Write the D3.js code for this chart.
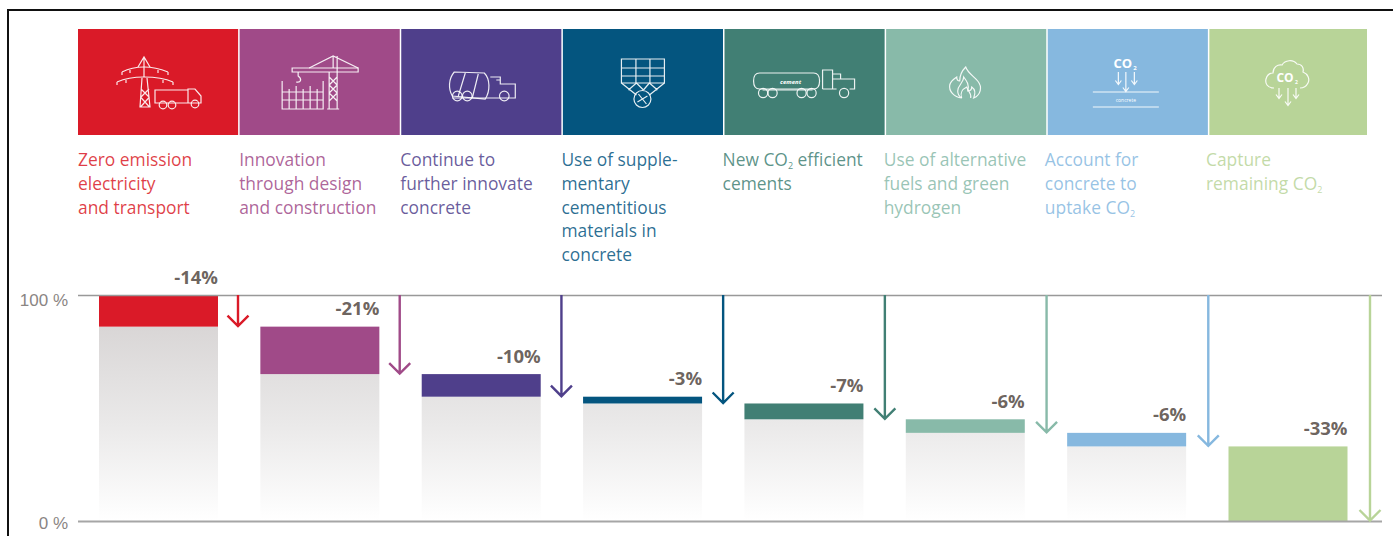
<!DOCTYPE html>
<html>
<head>
<meta charset="utf-8">
<script src="https://cdn.jsdelivr.net/npm/d3@7/dist/d3.min.js"></script>
<style>
  html, body { margin: 0; padding: 0; background: #fff; }
  svg { display: block; font-family: "Open Sans", "Noto Sans", sans-serif; }
</style>
</head>
<body>
<svg id="chart" width="1393" height="536"></svg>
<script>
// Stepwise route to net-zero concrete: each lever removes a share of the remaining CO2.
const levers = ["power", "design", "concrete", "scm", "cement", "fuels", "uptake", "capture"];
const reductions = [14, 21, 10, 3, 7, 6, 6, 33];
const colours = ["#da1a28", "#a04a88", "#4f3f8b", "#04557f", "#417f74", "#88baa9", "#86b8df", "#b8d498"];
const captions = [
  ["Zero emission", "electricity", "and transport"],
  ["Innovation", "through design", "and construction"],
  ["Continue to", "further innovate", "concrete"],
  ["Use of supple-", "mentary", "cementitious", "materials in", "concrete"],
  ["New CO2 efficient", "cements"],
  ["Use of alternative", "fuels and green", "hydrogen"],
  ["Account for", "concrete to", "uptake CO2"],
  ["Capture", "remaining CO2"]
];
const axisTicks = [0, 100];

const svg = d3.select("#chart");

// Running level left after each lever has been applied.
const steps = [];
reductions.reduce((level, cut, i) => {
  steps.push({ key: levers[i], cut, top: level, bottom: level - cut, colour: colours[i], caption: captions[i], index: i });
  return level - cut;
}, 100);

const y = d3.scaleLinear().domain([0, 100]).range([521, 295]);
const panelX = d3.scaleBand().domain(levers).range([78, 1371]);
const captionX = d3.scalePoint().domain(levers).range([78, 1206]);
const barX = d3.scalePoint().domain(levers).range([99, 1228.5]);
const arrowX = d3.scalePoint().domain(levers).range([238, 1370]);
const barWidth = 119;
const panelRight = 1367;

// Sheet frame
svg.append("path").attr("d", "M8,536V10H1393").attr("fill", "none").attr("stroke", "#111").attr("stroke-width", 2);

// Shared grey fade behind every bar
const grad = svg.append("defs").append("linearGradient")
  .attr("id", "fade").attr("gradientUnits", "userSpaceOnUse")
  .attr("x1", 0).attr("x2", 0).attr("y1", y(86)).attr("y2", y(0));
grad.append("stop").attr("offset", 0).attr("stop-color", "#d9d6d6");
grad.append("stop").attr("offset", 0.5).attr("stop-color", "#eae9e9");
grad.append("stop").attr("offset", 1).attr("stop-color", "#ffffff");

// Header tiles; the last one stops short of the full step
svg.append("g").selectAll("rect").data(steps).join("rect")
  .attr("x", d => panelX(d.key))
  .attr("y", 29)
  .attr("width", d => Math.min(panelX.bandwidth() - 1.5, panelRight - panelX(d.key)))
  .attr("height", 106)
  .attr("fill", d => d.colour);

// Pictograms, drawn in tile-local coordinates
const L = (g, d) => g.append("path").attr("d", d);
const wheels = (g, list, r) => list.forEach(([cx, cy]) => g.append("circle").attr("cx", cx).attr("cy", cy).attr("r", r));
const glyphs = {
  power(g) {
    L(g, "M66,28V48M60,38L66,28L72,38");
    L(g, "M44,43C52,39 60,38 66,38C72,38 80,39 90,43M44,43V46M52,41V44M80,41V44M90,43V46");
    L(g, "M39,53C48,49 58,48 66,48C74,48 86,49 95,53M39,53V56M48,51V54M85,51V54M95,53V56");
    L(g, "M64,49L62,78H72L69,49M63,60L71,68M71,60L63,68M62.500,68L71.500,78M71.500,68L62.500,78");
    L(g, "M77,61H110V74H77ZM110,60H117L123,67V74H110Z");
    wheels(g, [[85, 76], [94, 76], [117, 75]], 3.8);
  },
  design(g) {
    L(g, "M53,39H119V43H53Z");
    L(g, "M70,39L94,27L119,39M90,80V43M98,80V27M94,27V39M90,48L98,56M98,48L90,56M90,56L98,64M98,56L90,64M90,64L98,72M98,64L90,72M88,80H100");
    L(g, "M59,43V47C63,50 62,54 57,53");
    L(g, "M43,52V80H84V52M43,63H84M43,71H84M50,60V80M57,57V80M64,60V80M71,57V80M78,60V80");
  },
  concrete(g) {
    L(g, "M54,43L84,44C90,50 90,62 85,70L52,67C48,60 48,50 54,43ZM65,44L58,67M78,45L72,69");
    L(g, "M90,48H100V55H115V69H52M100,48V55M96,51H100");
    wheels(g, [[57, 67], [67, 67], [104, 67]], 4.8);
  },
  scm(g) {
    L(g, "M60,30H103V54H60ZM74.500,30V54M88.500,30V54M60,39H103M60,47H103");
    L(g, "M60,54L75,66M103,54L88,66M75,54L67,61M75,54L82,61M88,54L82,61M88,54L96,61");
    g.append("circle").attr("cx", 81).attr("cy", 70).attr("r", 8.5);
    L(g, "M81,70L77,65M81,70L86,67M81,70L85,75M81,70L76,73");
  },
  cement(g) {
    L(g, "M37,44H91C95,44 97,47 97,52C97,57 95,60 91,60H37C33,60 31,57 31,52C31,47 33,44 37,44Z");
    L(g, "M100,60V41H110V60M110,50H132V60H127M100,60H114M110,45H118V50M40,61H90");
    wheels(g, [[40.500, 64], [50, 64], [79, 64], [89, 64], [121.500, 64]], 4.6);
    g.append("text").text("cement").attr("x", 68).attr("y", 54.500).attr("text-anchor", "middle")
      .attr("font-size", 6).attr("font-style", "italic").attr("font-weight", 700).attr("fill", "#fff").attr("stroke", "none");
  },
  fuels(g) {
    L(g, "M82,38C84,44 90,47 94,52C99,58 97,66 90,69C92,64 91,60 88,58C88,61 86,62 84,62C86,56 83,52 80,48C80,54 74,56 74,62C74,65 75,67 78,69C70,68 65,62 66,56C67,52 70,50 73,48C73,50 74,52 76,52C76,46 78,42 82,38Z");
    L(g, "M78,69C76,64 79,60 83,58C84,62 88,64 87,69");
  },
  uptake(g) {
    g.append("text").text("CO").attr("x", 78).attr("y", 39).attr("text-anchor", "middle")
      .attr("font-size", 13).attr("font-weight", 700).attr("fill", "#fff").attr("stroke", "none");
    g.append("text").text("2").attr("x", 90).attr("y", 41).attr("text-anchor", "middle")
      .attr("font-size", 6).attr("font-weight", 700).attr("fill", "#fff").attr("stroke", "none");
    L(g, "M73.500,43V55M70.500,51.500L73.500,55.500L76.500,51.500M81,43V62M78,58.500L81,62.500L84,58.500M89.500,43V55M86.500,51.500L89.500,55.500L92.500,51.500");
    L(g, "M48,63H114M48,78H114");
    g.append("text").text("concrete").attr("x", 81).attr("y", 72.500).attr("text-anchor", "middle")
      .attr("font-size", 5).attr("fill", "#fff").attr("stroke", "none");
  },
  capture(g) {
    L(g, "M68,59C61,59 59,54 60,50C61,46 64,44 67,44C67,38 72,35 76,36C79,31 87,30 91,35C96,35 98,39 97,43C102,45 104,50 102,54C100,58 97,59 94,59");
    g.append("text").text("CO").attr("x", 79).attr("y", 53).attr("text-anchor", "middle")
      .attr("font-size", 12).attr("font-weight", 700).attr("fill", "#fff").attr("stroke", "none");
    g.append("text").text("2").attr("x", 90.500).attr("y", 55).attr("text-anchor", "middle")
      .attr("font-size", 5).attr("font-weight", 700).attr("fill", "#fff").attr("stroke", "none");
    L(g, "M73,59V69M70,65.500L73,69.500L76,65.500M82,59V76M79,72.500L82,76.500L85,72.500M90,59V69M87,65.500L90,69.500L93,65.500");
  }
};
svg.append("g").selectAll("g").data(steps).join("g")
  .attr("transform", d => `translate(${captionX(d.key)},29)`)
  .attr("fill", "none").attr("stroke", "#fff").attr("stroke-width", 1.2)
  .attr("stroke-opacity", 0.9)
  .each(function (d) { glyphs[d.key](d3.select(this)); });

// Captions under the tiles, with a lowered "2" in CO2
const captionGroups = svg.append("g").attr("font-size", 17.4).selectAll("text").data(steps).join("text")
  .attr("fill", d => d.colour)
  .attr("fill-opacity", 0.85);
captionGroups.each(function (d) {
  const text = d3.select(this);
  const x = captionX(d.key);
  d.caption.forEach((line, i) => {
    const lineY = 165.800 + i * 23.85;
    const parts = line.split("CO2");
    text.append("tspan").attr("x", x).attr("y", lineY).text(parts[0] + (parts.length > 1 ? "CO" : ""));
    if (parts.length > 1) {
      text.append("tspan").attr("y", lineY + 3).attr("font-size", 9).text("2");
      if (parts[1]) text.append("tspan").attr("y", lineY).text(parts[1]);
    }
  });
});

// Grey remainder under each coloured step
const bars = svg.append("g");
bars.selectAll("rect.rest").data(steps.filter(d => d.bottom > 0)).join("rect")
  .attr("class", "rest")
  .attr("x", d => barX(d.key))
  .attr("y", d => y(d.bottom))
  .attr("width", barWidth)
  .attr("height", d => y(0) - y(d.bottom))
  .attr("fill", "url(#fade)");

// Value axis with its two reference lines
const axis = svg.append("g")
  .attr("transform", "translate(78,0)")
  .call(d3.axisLeft(y).tickValues(axisTicks).tickSize(-1304).tickPadding(10).tickFormat(d => d + " %"));
axis.select(".domain").remove();
axis.selectAll("line").attr("stroke", d => d === 0 ? "#a6a6a6" : "#999").attr("stroke-width", d => d === 0 ? 2 : 1.5);
axis.selectAll("text").attr("font-family", "inherit").attr("font-size", 17).attr("fill", "#8a8583")
  .attr("dy", d => d === 0 ? "0.45em" : "0.62em");

// Coloured step: the share removed by this lever
bars.selectAll("rect.cut").data(steps).join("rect")
  .attr("class", "cut")
  .attr("x", d => barX(d.key))
  .attr("y", d => y(d.top))
  .attr("width", barWidth)
  .attr("height", d => y(d.bottom) - y(d.top))
  .attr("fill", d => d.colour);

// Percentage above each step
svg.append("g").selectAll("text").data(steps).join("text")
  .attr("x", d => barX(d.key) + barWidth)
  .attr("y", d => y(d.top) - 11.5)
  .attr("text-anchor", "end")
  .attr("font-size", 18.5)
  .attr("font-weight", 700)
  .attr("fill", "#5f5650")
  .attr("fill-opacity", 0.92)
  .text(d => `-${d.cut}%`);

// Arrows from the 100 % line down to the level reached
svg.append("g").attr("fill", "none").attr("stroke-width", 2.4)
  .selectAll("path").data(steps).join("path")
  .attr("stroke", d => d.colour)
  .attr("d", d => {
    const ax = arrowX(d.key), tip = y(d.bottom) - 0.5;
    return `M${ax},${y(100)}V${tip}M${ax - 10.5},${tip - 10.5}L${ax},${tip}L${ax + 10.5},${tip - 10.5}`;
  });
</script>
</body>
</html>
